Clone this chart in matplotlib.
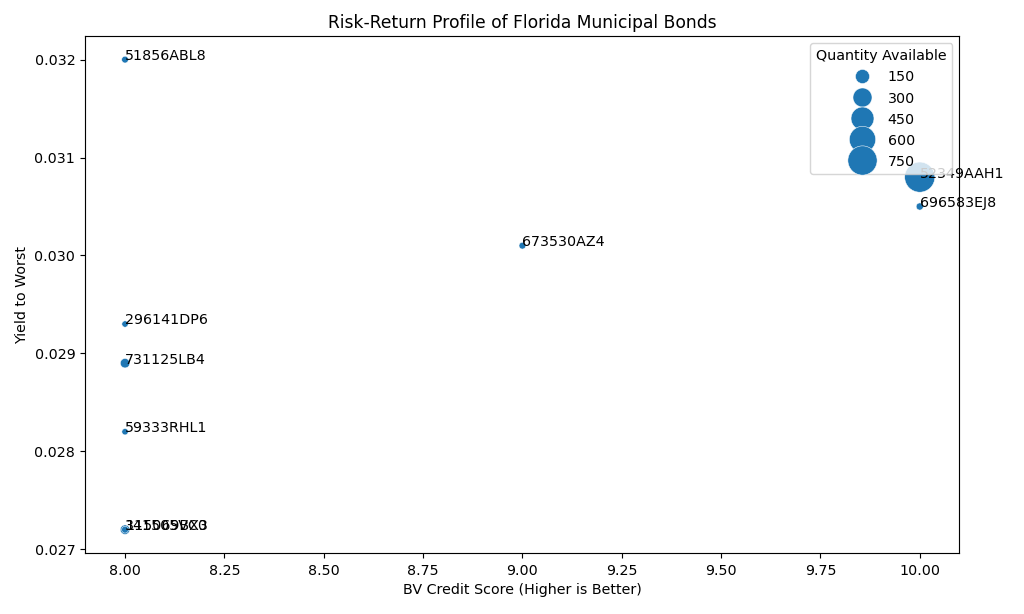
import numpy as np
import pandas as pd
import seaborn as sns
import matplotlib
matplotlib.use("Agg")
import matplotlib.pyplot as plt

# bond data
cusips = ["51856ABL8", "52349AAH1", "696583EJ8", "673530AZ4", "296141DP6",
          "731125LB4", "59333RHL1", "341505VC0", "115069BX3"]
credit_score = [8.0, 10.0, 10.0, 9.0, 8.0, 8.0, 8.0, 8.0, 8.0]
yield_to_worst = [0.0320, 0.0308, 0.0305, 0.0301, 0.0293, 0.0289, 0.0282, 0.0272, 0.0272]
quantity = [10, 800, 15, 10, 5, 50, 5, 50, 10]

df = pd.DataFrame({
    "CUSIP": cusips,
    "BV Credit Score": credit_score,
    "Yield to Worst": yield_to_worst,
    "Quantity Available": quantity,
})

fig, ax = plt.subplots(figsize=(10, 6), dpi=102.4)
sns.scatterplot(data=df, x="BV Credit Score", y="Yield to Worst",
                size="Quantity Available", sizes=(20, 450), legend="brief", ax=ax)

for _, row in df.iterrows():
    ax.text(row["BV Credit Score"], row["Yield to Worst"], row["CUSIP"], fontsize=10)

ax.set_title("Risk-Return Profile of Florida Municipal Bonds")
ax.set_xlabel("BV Credit Score (Higher is Better)")
ax.set_ylabel("Yield to Worst")
sns.move_legend(ax, "upper right", title="Quantity Available")

fig.subplots_adjust(left=0.0833, right=0.937, top=0.9406, bottom=0.099)
fig.savefig("out.png", dpi=102.4)
